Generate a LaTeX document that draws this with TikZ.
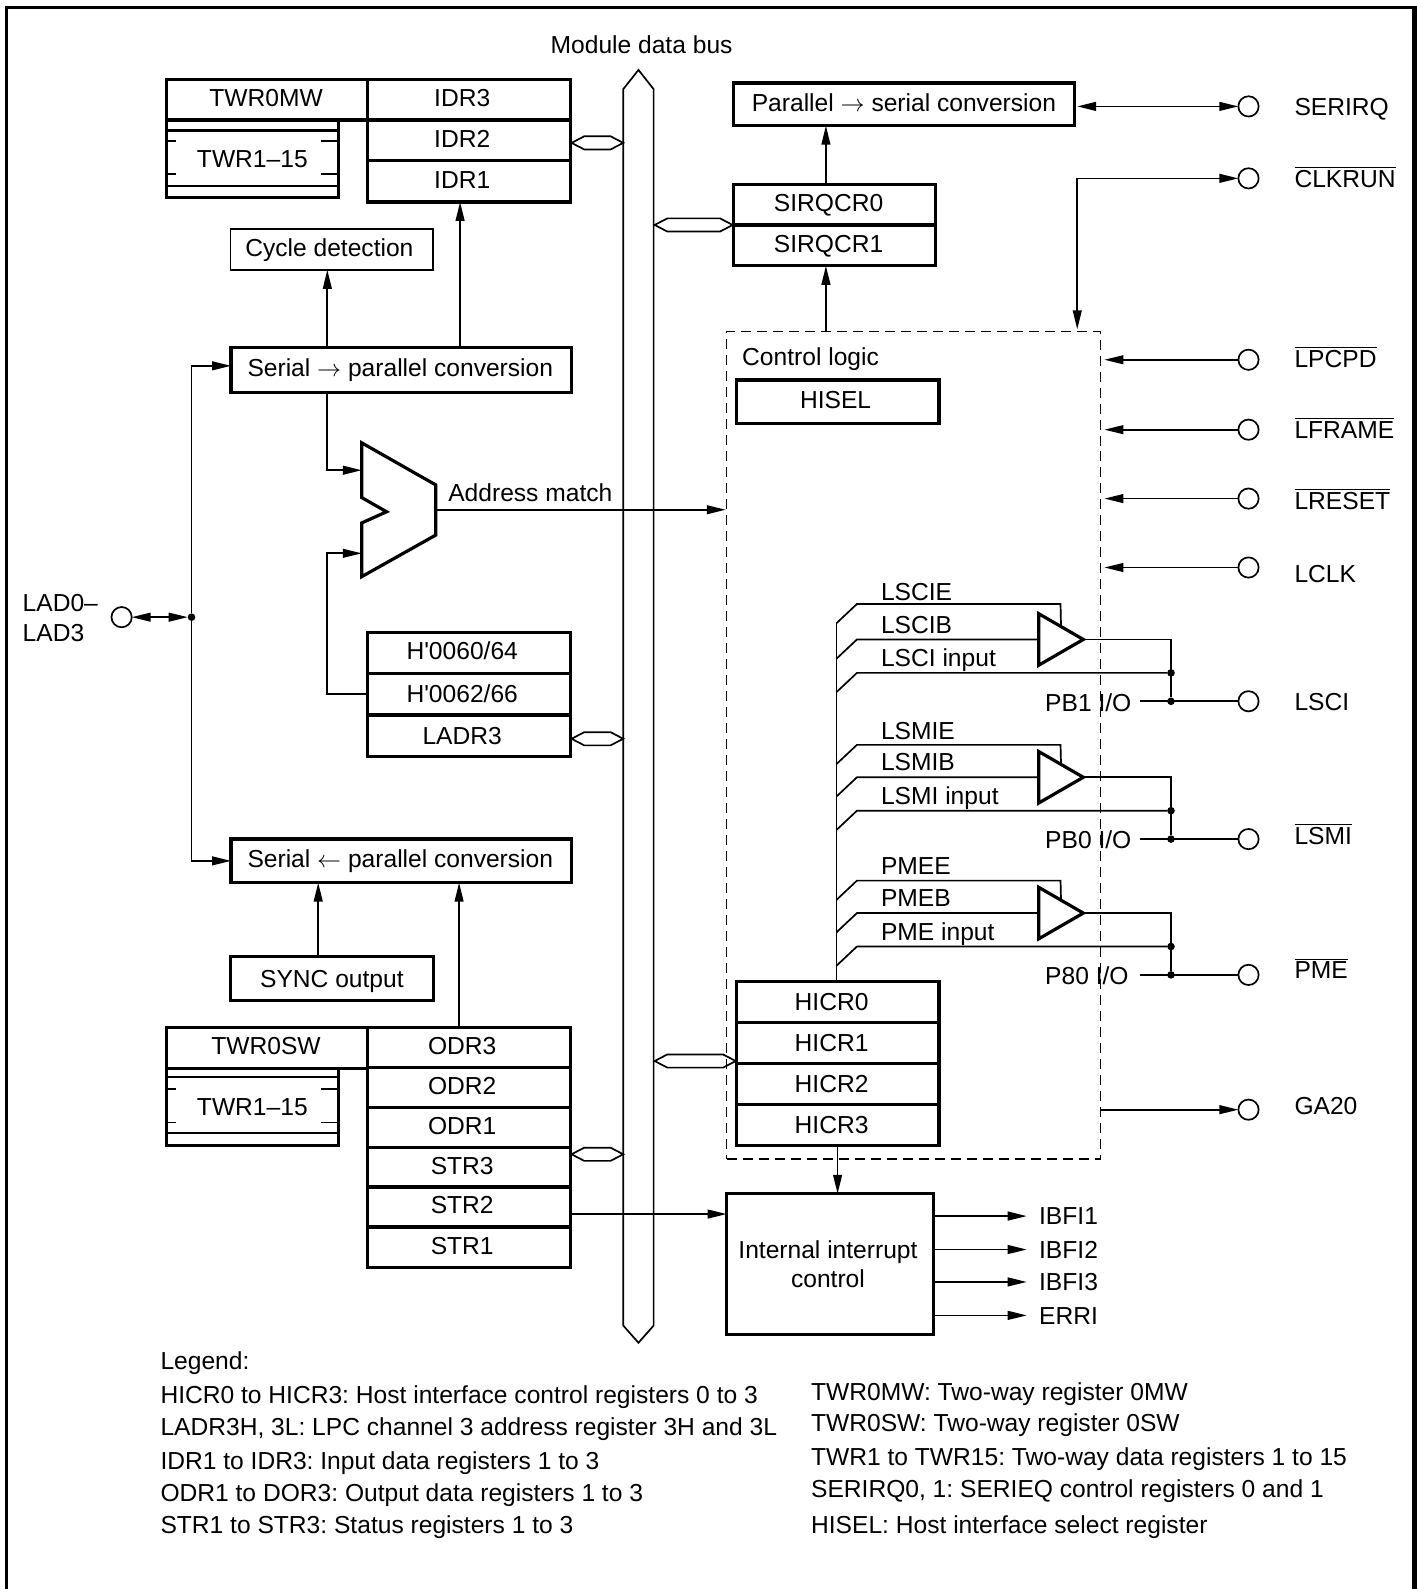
\documentclass[tikz,border=0pt]{standalone}
\usepackage{fontspec}
\setmainfont{Liberation Sans}
\newfontfamily\rawfont{Liberation Sans}
\usepackage{tikz}
\usetikzlibrary{arrows.meta, positioning, shapes.geometric}
\newcommand{\ux}{0.5068pt}
\newcommand{\ovl}[1]{$\overline{\mbox{#1}}$}
\frenchspacing

\begin{document}
\begin{tikzpicture}[
    x=0.5068pt, y=-0.5068pt,
    font=\fontsize{12.3}{14.7}\selectfont,
    wire/.style={line width=0.85pt},
    >={Triangle[length=9.5pt,width=4.4pt]},
    reg/.style={rectangle, draw=black, line width=1.6pt, inner sep=0pt, outer sep=0pt,
        text height=8.8pt, text depth=2pt, minimum width=200*\ux, minimum height=40.5*\ux},
    regc/.style={text depth=0pt},
    tl/.style={execute at begin node={\hspace*{-#1pt}}},
    regs/.style={reg, tl=7},
    thinbox/.style={reg, line width=0.85pt},
    lbl/.style={anchor=west, inner sep=0pt, text height=8.8pt, text depth=0pt},
    pin/.style={circle, draw=black, line width=0.85pt, fill=white, minimum size=20*\ux, inner sep=0pt, outer sep=0pt},
    junc/.style={circle, fill=black, minimum size=7.5*\ux, inner sep=0pt, outer sep=0pt},
    buffer/.style={isosceles triangle, isosceles triangle apex angle=60, draw=black, line width=1.6pt,
        inner sep=0pt, outer sep=0pt, minimum height=44*\ux, anchor=apex}
  ]
  \useasboundingbox (0,0) rectangle (1398,1568);

  % Page frame, open at the bottom
  \draw[line width=1.5pt] (6.4,1568) -- (6.4,7.4) -- (1393,7.4);
  \fill (1393,6) rectangle (1398,1568);

  % Module data bus
  \draw[wire] (630,69) -- (645,88) -- (645,1308) -- (630,1325) -- (615,1308) -- (615,88) -- cycle;
  \node[lbl] (busname) at (543,44) {Module data bus};

  % Links between registers and the bus
  \foreach \xa/\xb/\yy in {564/615/141, 646/723/222, 564/615/729, 646/726/1047, 564/615/1139}
    \draw[wire] (\xa,\yy) -- (\xa+12.5,\yy-6.5) -- (\xb-12.5,\yy-6.5) -- (\xb,\yy)
      -- (\xb-12.5,\yy+6.5) -- (\xa+12.5,\yy+6.5) -- cycle;

  % Input data registers and two-way registers
  \node[reg, tl=1, minimum width=199*\ux, minimum height=40*\ux] (twrmw) at (263.5,98.5) {TWR0MW};
  \node[regs] (idr3) at (463,98.5) {IDR3};
  \node[regs] (idr2) at (463,138.5) {IDR2};
  \node[regs] (idr1) at (463,179) {IDR1};
  \node[reg, regc, minimum width=170*\ux, minimum height=76*\ux] (twrup) at (249,156.5) {TWR1--15};
  \draw[line width=1.3pt] (164,129) -- (334,129) (164,183.5) -- (334,183.5);
  \draw[wire] (164,139) -- (174,139) (317,139) -- (334,139) (164,172) -- (174,172) (317,172) -- (334,172);

  % Serial to parallel side
  \node[thinbox, tl=2.5] (cycle) at (327.5,246) {Cycle detection};
  \node[reg, tl=1, minimum width=336*\ux, minimum height=44*\ux] (s2p) at (396,365) {Serial $\rightarrow$ parallel conversion};
  \coordinate (tapcyc) at (323,300);
  \coordinate (tapidr) at (454,300);
  \coordinate (s2pin) at (228,361);
  \draw[wire, ->] (tapcyc |- s2p.north) -- (tapcyc |- cycle.south);
  \draw[wire, ->] (tapidr |- s2p.north) -- (tapidr |- idr1.south);

  % Address comparator
  \draw[line width=1.6pt] (357,437) -- (430,478.5) -- (430,528) -- (357,569) -- (357,516) -- (381.5,505) -- (357,491) -- cycle;
  \coordinate (cmpa) at (357,464);
  \coordinate (cmpb) at (357,546);
  \coordinate (cmpo) at (430,503);
  \draw[wire, ->] (s2p.south -| tapcyc) |- (cmpa);
  \node[lbl] (addrmatch) at (442,486) {Address match};

  % Address registers
  \node[regs] (adr0) at (463,644.5) {\rawfont H'0060/64};
  \node[regs, regc] (adr1) at (463,685) {\rawfont H'0062/66};
  \node[regs, regc] (ladr3) at (463,726) {LADR3};
  \draw[wire, ->] (adr1.west) -| (323,546) -- (cmpb);

  % Parallel to serial side
  \node[reg, tl=1, minimum width=336*\ux, minimum height=43*\ux] (p2s) at (396,849.5) {Serial $\leftarrow$ parallel conversion};
  \node[reg, regc, minimum height=43*\ux] (sync) at (327.5,965.5) {SYNC output};
  \draw[wire, ->] (314,944) -- (314,871);

  % Output data and status registers
  \node[reg, tl=1, minimum width=199*\ux, minimum height=40*\ux] (twrsw) at (263.5,1034) {TWR0SW};
  \node[regs, minimum height=39.5*\ux] (odr3) at (463,1033.5) {ODR3};
  \node[regs, minimum height=39.5*\ux] (odr2) at (463,1073) {ODR2};
  \node[regs, minimum height=39.5*\ux] (odr1) at (463,1112.5) {ODR1};
  \node[regs, minimum height=39.5*\ux] (str3) at (463,1152) {STR3};
  \node[regs, minimum height=39.5*\ux] (str2) at (463,1191) {STR2};
  \node[regs, minimum height=39.5*\ux] (str1) at (463,1231) {STR1};
  \node[reg, regc, minimum width=170*\ux, minimum height=76*\ux] (twrlo) at (249,1092) {TWR1--15};
  \draw[line width=1.3pt] (164,1062.6) -- (334,1062.6) (164,1118) -- (334,1118);
  \draw[wire] (164,1074.6) -- (174,1074.6) (317,1074.6) -- (334,1074.6) (164,1107.7) -- (174,1107.7) (317,1107.7) -- (334,1107.7);
  \coordinate (tapodr) at (453,950);
  \draw[wire, ->] (tapodr |- odr3.north) -- (tapodr |- p2s.south);

  % LPC address and data lines
  \node[pin] (ladpin) at (120,609) {};
  \node[junc] (ladj) at (189,609) {};
  \node[lbl] (ladname) at (22,595) {LAD0--};
  \node[lbl] (ladnameb) at (22,624) {LAD3};
  \draw[wire, <->] (ladpin.east) -- (ladj.west);
  \draw[wire, ->] (ladj) |- (s2pin);
  \draw[wire, ->] (ladj) |- (p2s.west);

  % Control logic area
  \node[rectangle, draw=black, line width=0.85pt, dash pattern=on 5pt off 3pt, inner sep=0pt,
      minimum width=369*\ux, minimum height=817*\ux] (ctrl) at (901.5,735.5) {};
  \node[lbl] (ctrlname) at (732,352) {Control logic};
  \node[reg, tl=2, minimum height=43*\ux] (hisel) at (826.5,396.5) {HISEL};
  \draw[wire, ->] (cmpo) -- (cmpo -| ctrl.west);

  % SERIRQ logic
  \node[reg, minimum width=336*\ux, minimum height=42*\ux] (p2sb) at (892,103) {Parallel $\rightarrow$ serial conversion};
  \node[reg, tl=6] (sirq0) at (823.5,202) {SIRQCR0};
  \node[reg, tl=6] (sirq1) at (823.5,242) {SIRQCR1};
  \coordinate (tapsirq) at (815,300);
  \draw[wire, ->] (tapsirq |- sirq0.north) -- (tapsirq |- p2sb.south);
  \draw[wire, ->] (tapsirq |- ctrl.north) -- (tapsirq |- sirq1.south);

  % Host interface control registers
  \node[reg, regc, tl=6] (hicr0) at (826.5,988.5) {HICR0};
  \node[reg, regc, tl=6] (hicr1) at (826.5,1029) {HICR1};
  \node[reg, regc, tl=6] (hicr2) at (826.5,1069.5) {HICR2};
  \node[reg, regc, tl=6] (hicr3) at (826.5,1110) {HICR3};
  \draw[wire] (hicr0.north -| 825.4,0) -- (825.4,615);

  % Output buffers for LSCI, LSMI and PME
  \foreach \nm/\yt/\ye/\yb/\yi/\yo/\yl/\tee/\tbb/\tii/\too/\pad in {
      a/584/596/631/664/692/692/LSCIE/LSCIB/{LSCI input}/{PB1 I/O}/LSCI,
      b/721/735/767/800/828/825/LSMIE/LSMIB/{LSMI input}/{PB0 I/O}/\ovl{LSMI},
      c/854/869/901/934/962/957/PMEE/PMEB/{PME input}/{P80 I/O}/\ovl{PME}} {
    \node[buffer] (buf\nm) at (1069,\yb) {};
    \node[junc] (ji\nm) at (1155.5,\yi) {};
    \node[junc] (jo\nm) at (1155.5,\yo) {};
    \node[pin] (pin\nm) at (1232,\yo) {};
    \node[lbl] (te\nm) at (869,\yt) {\tee};
    \node[lbl] (tb\nm) at (869,\yb-15) {\tbb};
    \node[lbl] (ti\nm) at (869,\yi-15) {\tii};
    \node[lbl] (to\nm) at (1031,\yo+1) {\too};
    \node[lbl] (pn\nm) at (1277,\yl) {\pad};
    \draw[wire] (825.4,\ye+19) -- (845.6,\ye) -- (1046.5,\ye) -- (buf\nm.left side);
    \draw[wire] (825.4,\yb+19) -- (845.6,\yb) -- (buf\nm.lower side);
    \draw[wire] (825.4,\yi+19) -- (845.6,\yi) -- (ji\nm);
    \draw[wire] (buf\nm.apex) -| (jo\nm);
    \draw[wire] (1124.7,\yo) -- (pin\nm.west);
  }

  % Pins on the right edge
  \node[pin] (serirq) at (1232,105) {};
  \node[lbl] (serirqn) at (1277,105) {SERIRQ};
  \draw[wire, <->, shorten <=1.5pt] (p2sb.east |- serirq) -- (serirq.west);
  \node[pin] (clkrun) at (1232,176) {};
  \node[lbl] (clkrunn) at (1277,176) {\ovl{CLKRUN}};
  \draw[wire, <->] (1063,325) |- (clkrun.west);
  \foreach \nm/\yy/\yl/\txt in {lpcpd/355/354/\ovl{LPCPD}, lframe/424/424/\ovl{LFRAME}, lreset/492/494/\ovl{LRESET}, lclk/560/566/LCLK} {
    \node[pin] (\nm) at (1232,\yy) {};
    \node[lbl] (\nm n) at (1277,\yl) {\txt};
    \draw[wire, ->, shorten >=1.5pt] (\nm.west) -- (\nm.west -| ctrl.east);
  }
  \node[pin] (ga20) at (1232,1095) {};
  \node[lbl] (ga20n) at (1277,1091) {GA20};
  \draw[wire, ->] (ga20.west -| ctrl.east) -- (ga20.west);

  % Internal interrupt control
  \node[rectangle, draw=black, line width=1.6pt, inner sep=0pt, outer sep=0pt, align=center,
      minimum width=204*\ux, minimum height=139*\ux] (irq) at (819,1247.5) {\hspace*{-2pt}Internal interrupt\\\hspace*{-2pt}control};
  \coordinate (tapstr) at (564,1198);
  \draw[wire, ->] (tapstr) -- (tapstr -| irq.west);
  \draw[wire, ->] (hicr3.south) -- (hicr3.south |- irq.north);
  \foreach \nm/\yy/\txt in {ibfia/1200/IBFI1, ibfib/1233/IBFI2, ibfic/1265/IBFI3, erri/1298/ERRI} {
    \node[lbl] (\nm) at (1025,\yy) {\txt};
    \draw[wire, ->, shorten >=6pt] (\nm.west -| irq.east) -- (\nm.west);
  }

  % Legend
  \foreach \yy/\txt [count=\k] in {1343/{Legend:},
      1376/{HICR0 to HICR3: Host interface control registers 0 to 3},
      1408/{LADR3H, 3L: LPC channel 3 address register 3H and 3L},
      1441/{IDR1 to IDR3: Input data registers 1 to 3},
      1473/{ODR1 to DOR3: Output data registers 1 to 3},
      1505/{STR1 to STR3: Status registers 1 to 3}}
    \node[lbl] (lega\k) at (158,\yy) {\txt};
  \foreach \yy/\txt [count=\k] in {1373/{TWR0MW: Two-way register 0MW},
      1404/{TWR0SW: Two-way register 0SW},
      1437/{TWR1 to TWR15: Two-way data registers 1 to 15},
      1469/{SERIRQ0, 1: SERIEQ control registers 0 and 1},
      1505/{HISEL: Host interface select register}}
    \node[lbl] (legb\k) at (800,\yy) {\txt};
\end{tikzpicture}
\end{document}
